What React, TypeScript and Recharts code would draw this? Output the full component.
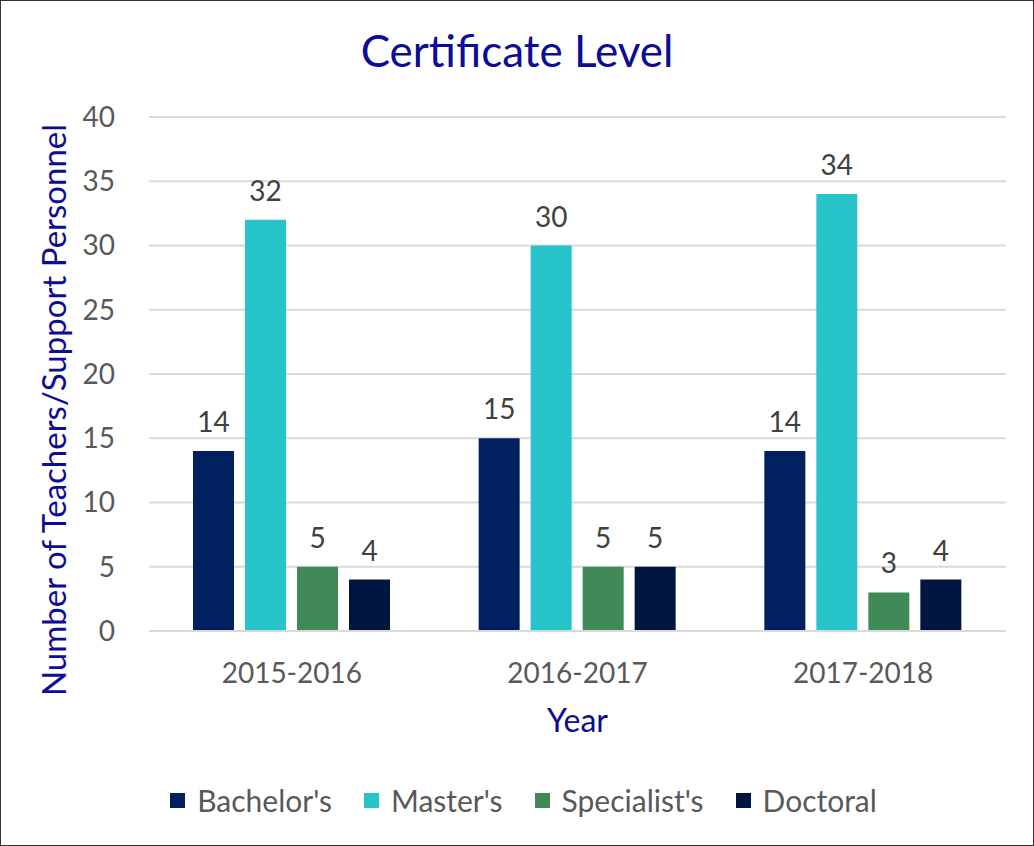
import { Bar, BarChart, CartesianGrid, LabelList, Legend, XAxis, YAxis } from "recharts";

const years = ["2015-2016", "2016-2017", "2017-2018"];
const bachelors = [14, 15, 14];
const masters = [32, 30, 34];
const specialists = [5, 5, 3];
const doctoral = [4, 5, 4];
const yTicks = [0, 5, 10, 15, 20, 25, 30, 35, 40];

const series = [
  { key: "bachelors", name: "Bachelor's", color: "#012060" },
  { key: "masters", name: "Master's", color: "#27C4CA" },
  { key: "specialists", name: "Specialist's", color: "#3F8A56" },
  { key: "doctoral", name: "Doctoral", color: "#00163F" },
];

const rows = years.map((year, i) => ({
  year,
  bachelors: bachelors[i],
  masters: masters[i],
  specialists: specialists[i],
  doctoral: doctoral[i],
}));

const font = "Lato, 'Noto Sans', sans-serif";
const navy = "#0C0C96";

function LegendRow() {
  return (
    <div style={{ display: "flex", justifyContent: "center", alignItems: "center", gap: 32, fontFamily: font, fontSize: 30, color: "#595959", lineHeight: "36px", paddingLeft: 40 }}>
      {series.map((s) => (
        <div key={s.key} style={{ display: "flex", alignItems: "center", gap: 12 }}>
          <span style={{ width: 15, height: 15, background: s.color, display: "inline-block" }} />
          <span>{s.name}</span>
        </div>
      ))}
    </div>
  );
}

export default function App() {
  return (
    <div style={{ position: "absolute", left: 0, top: 0, width: 1034, height: 846, border: "1px solid #333", boxSizing: "border-box", background: "#fff", fontFamily: font }}>
      <div style={{ position: "absolute", left: 0, right: 0, top: 23, textAlign: "center", fontSize: 44, color: navy }}>
        Certificate Level
      </div>
      <BarChart
        width={1032}
        height={844}
        data={rows}
        margin={{ top: 116, right: 27, bottom: 20, left: 0 }}
        barCategoryGap={44}
        barGap={11}
        accessibilityLayer={false}
      >
        <CartesianGrid vertical={false} stroke="#D9D9D9" strokeWidth={2} />
        <XAxis
          dataKey="year"
          height={151}
          tickLine={false}
          axisLine={{ stroke: "#D9D9D9", strokeWidth: 2 }}
          tickMargin={26}
          tick={{ fill: "#595959", fontSize: 28, fontFamily: font }}
          label={{ value: "Year", position: "insideTop", offset: 78, fill: navy, fontSize: 32, fontFamily: font }}
        />
        <YAxis
          width={148}
          domain={[0, 40]}
          ticks={yTicks}
          interval={0}
          tickLine={false}
          axisLine={false}
          tickMargin={28}
          tick={{ fill: "#595959", fontSize: 28, fontFamily: font }}
          label={{ value: "Number of Teachers/Support Personnel", angle: -90, position: "center", dx: -21, dy: 36, fill: navy, fontSize: 33, fontFamily: font }}
        />
        <Legend verticalAlign="bottom" height={43} content={() => <LegendRow />} />
        {series.map((s) => (
          <Bar key={s.key} dataKey={s.key} name={s.name} fill={s.color} isAnimationActive={false}>
            <LabelList dataKey={s.key} position="top" offset={19} fill="#404040" fontSize={28} fontFamily={font} />
          </Bar>
        ))}
      </BarChart>
    </div>
  );
}
